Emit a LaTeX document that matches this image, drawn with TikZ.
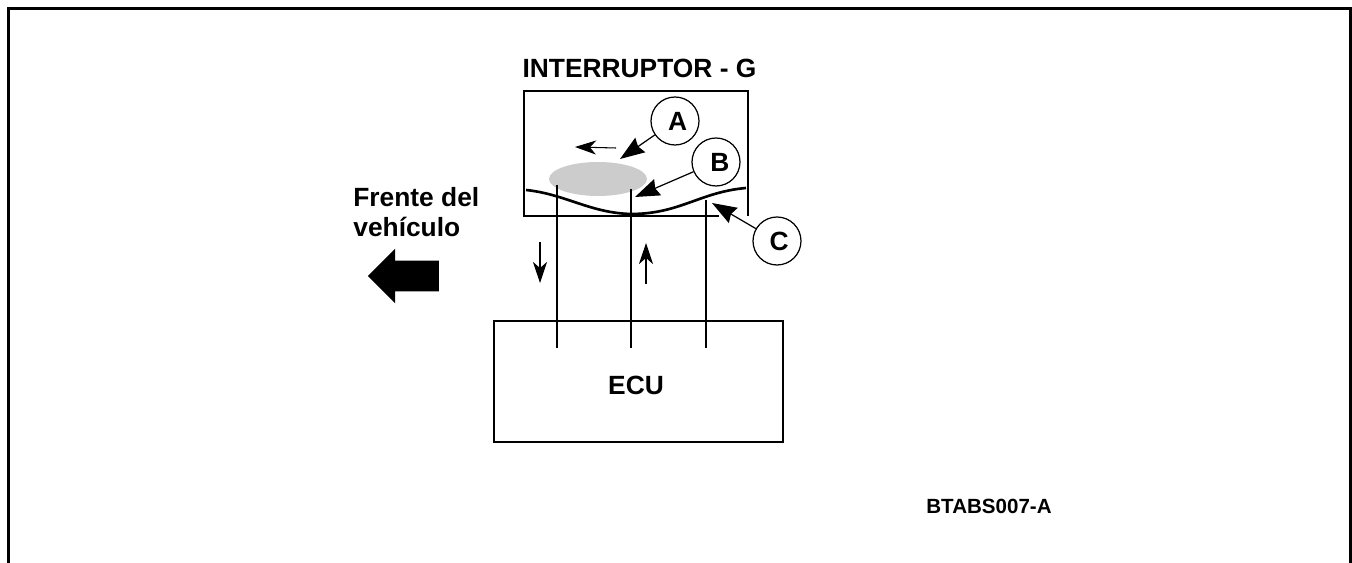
\documentclass[tikz,border=0pt]{standalone}
\usepackage{fontspec}
\setmainfont{Liberation Sans}
\usetikzlibrary{arrows.meta,shapes.arrows,shapes.geometric}
\tikzset{
    boxline/.style={line width=1.1pt},
    wire/.style={line width=1.1pt},
    callout/.style={circle, draw, line width=0.7pt, minimum size=0.96cm, inner sep=0pt, font=\bfseries\fontsize{15}{18}\selectfont},
    pointer/.style={-{Stealth[length=14pt,width=10pt,inset=1.5pt]}, line width=0.7pt},
    flow/.style={-{Stealth[length=12pt,width=8pt,inset=3.5pt]}, line width=0.6pt},
    heading/.style={inner sep=0pt, font=\bfseries\fontsize{15}{18}\selectfont}
}
\begin{document}
\begin{tikzpicture}[x=0.02cm, y=-0.02cm]
    \useasboundingbox (0,0) rectangle (1352,563);

    % Outer frame
    \draw[line width=1.7pt] (8.5,563) -- (8.5,8.5) -- (1350,8.5) -- (1350,563);

    % Switch housing
    \node[heading, anchor=base] (title) at (639.5,78) {INTERRUPTOR - G};
    \draw[boxline] (719,216) -- (524,216) -- (524,91) -- (748,91) -- (748,216);

    % Mass
    \node[ellipse, fill=black!20, minimum width=1.96cm, minimum height=0.68cm, inner sep=0pt] (mass) at (598,179) {};

    % ECU
    \node[rectangle, draw, boxline, minimum width=5.78cm, minimum height=2.42cm] (ecu) at (638.5,381.5) {};
    \node[heading] (ecutext) at (636,385) {ECU};

    % Callouts
    \node[callout] (a) at (675,121) {\hspace*{3pt}A};
    \node[callout] (b) at (716,162) {\hspace*{4.5pt}\raisebox{-1.2pt}{B}};
    \node[callout] (c) at (777,241) {\hspace*{2.5pt}\raisebox{-1.2pt}{C}};

    % Free ends
    \coordinate (atip) at (620,159);
    \coordinate (btip) at (635,197);
    \coordinate (ctip) at (712,203);
    \coordinate (springl) at (526,190);
    \coordinate (springm) at (631,214);
    \coordinate (springr) at (746,188);
    \coordinate (wire1t) at (557,185);
    \coordinate (wire1b) at (557,348);
    \coordinate (wire2t) at (631,189);
    \coordinate (wire2b) at (631,348);
    \coordinate (wire3t) at (706,200);
    \coordinate (wire3b) at (706,348);
    \coordinate (movea) at (616,148);
    \coordinate (moveb) at (575,147);
    \coordinate (downa) at (540,242);
    \coordinate (downb) at (540,283);
    \coordinate (upa) at (646,284);
    \coordinate (upb) at (646,243);

    % Spring plate
    \draw[line width=1.5pt] (springl) .. controls (565,194) and (590,213) .. (springm)
        .. controls (680,214) and (700,192) .. (springr);

    % Wires
    \draw[wire] (wire1t) -- (wire1b);
    \draw[wire] (wire2t) -- (wire2b);
    \draw[wire] (wire3t) -- (wire3b);

    % Arrows
    \draw[pointer] (a) -- (atip);
    \draw[pointer] (b) -- (btip);
    \draw[pointer] (c) -- (ctip);
    \draw[flow] (movea) -- (moveb);
    \draw[flow] (downa) -- (downb);
    \draw[flow] (upa) -- (upb);

    % Vehicle front
    \node[heading, anchor=base west] (front) at (353,207) {Frente del};
    \node[heading, anchor=base west] (vehicle) at (353,237) {vehículo};
    \node[single arrow, fill=black, shape border rotate=180, inner xsep=0pt, inner ysep=0.3cm, single arrow head extend=0.24cm, single arrow head indent=0cm, minimum height=1.42cm] (bigarrow) at (411,276) {};

    % Drawing code
    \node[inner sep=0pt, font=\bfseries\fontsize{11.7}{14}\selectfont] (code) at (989,506) {BTABS007-A};
\end{tikzpicture}
\end{document}
